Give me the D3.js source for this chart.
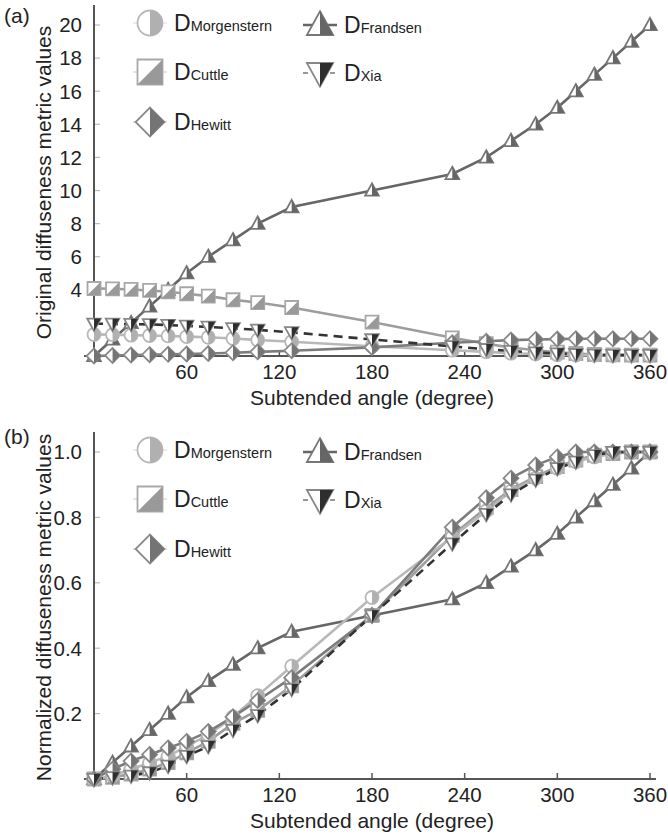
<!DOCTYPE html>
<html>
<head>
<meta charset="utf-8">
<script src="https://cdn.jsdelivr.net/npm/d3@7"></script>
<style>
  body { margin: 0; background: #fff; }
  svg { display: block; font-family: "Liberation Sans", Arial, sans-serif; }
  .tick-label { fill: #222; font-size: 20.5px; }
  .axis-title { fill: #222; font-size: 21px; }
</style>
</head>
<body>
<svg id="chart" width="668" height="838"></svg>
<script>
// subtended angles (degree) at which every metric was evaluated
const angles = [0, 12, 24, 36, 48, 60, 74, 90, 106, 128, 180, 232, 254, 270, 286, 300, 312, 324, 336, 348, 360];
const xTicks = [60, 120, 180, 240, 300, 360];
const yTicksA = [4, 6, 8, 10, 12, 14, 16, 18, 20];
const yTicksB = [0.2, 0.4, 0.6, 0.8, 1.0];

// (a) original values
const origMorgenstern = [1.3, 1.29, 1.26, 1.24, 1.21, 1.17, 1.13, 1.06, 0.97, 0.86, 0.59, 0.35, 0.25, 0.17, 0.12, 0.08, 0.06, 0.04, 0.03, 0.02, 0.02];
const origCuttle = [4.08, 4.06, 4.02, 3.96, 3.88, 3.76, 3.62, 3.4, 3.23, 2.93, 2.05, 1.1, 0.74, 0.51, 0.35, 0.23, 0.15, 0.09, 0.07, 0.05, 0.05];
const origHewitt = [0, 0.03, 0.06, 0.08, 0.1, 0.12, 0.15, 0.2, 0.25, 0.32, 0.52, 0.8, 0.89, 0.96, 1.0, 1.02, 1.04, 1.04, 1.04, 1.04, 1.04];
const origFrandsen = [0, 1, 2, 3, 4, 5, 6, 7, 8, 9, 10, 11, 12, 13, 14, 15, 16, 17, 18, 19, 20];
const origXia = [1.95, 1.94, 1.93, 1.91, 1.87, 1.82, 1.76, 1.67, 1.58, 1.43, 1.0, 0.58, 0.41, 0.3, 0.21, 0.15, 0.11, 0.07, 0.05, 0.05, 0.05];

// (b) normalized values
const normMorgenstern = [0, 0.01, 0.03, 0.05, 0.07, 0.1, 0.135, 0.19, 0.255, 0.345, 0.555, 0.74, 0.82, 0.88, 0.92, 0.95, 0.97, 0.985, 0.995, 1.0, 1.0];
const normCuttle = [0, 0.005, 0.015, 0.03, 0.05, 0.08, 0.115, 0.17, 0.21, 0.285, 0.5, 0.745, 0.83, 0.885, 0.925, 0.955, 0.975, 0.99, 0.995, 1.0, 1.0];
const normHewitt = [0, 0.03, 0.055, 0.075, 0.095, 0.115, 0.145, 0.19, 0.24, 0.31, 0.5, 0.77, 0.86, 0.92, 0.96, 0.985, 1.0, 1.0, 1.0, 1.0, 1.0];
const normFrandsen = [0, 0.05, 0.1, 0.15, 0.2, 0.25, 0.3, 0.35, 0.4, 0.45, 0.5, 0.55, 0.6, 0.65, 0.7, 0.75, 0.8, 0.85, 0.9, 0.95, 1.0];
const normXia = [0, 0.005, 0.01, 0.02, 0.04, 0.07, 0.1, 0.15, 0.195, 0.275, 0.5, 0.72, 0.81, 0.87, 0.915, 0.95, 0.97, 0.99, 1.0, 1.0, 1.0];

// marker shapes: outline + the filled right half
const shapes = {
  circle: r => [
    `M${-r},0A${r},${r} 0 1,1 ${r},0A${r},${r} 0 1,1 ${-r},0Z`,
    `M0,${-r}A${r},${r} 0 0,1 0,${r}Z`
  ],
  square: r => [
    `M${-r},${-r}H${r}V${r}H${-r}Z`,
    `M${r},${-r}V${r}H${-r}Z`
  ],
  diamond: r => [
    `M0,${-r * 1.15}L${r * 1.15},0L0,${r * 1.15}L${-r * 1.15},0Z`,
    `M0,${-r * 1.15}L${r * 1.15},0L0,${r * 1.15}Z`
  ],
  up: r => [
    `M0,${-r * 1.1}L${r * 1.05},${r * 0.8}L${-r * 1.05},${r * 0.8}Z`,
    `M0,${-r * 1.1}L${r * 1.05},${r * 0.8}L0,${r * 0.8}Z`
  ],
  down: r => [
    `M${-r * 1.05},${-r * 0.8}L${r * 1.05},${-r * 0.8}L0,${r * 1.1}Z`,
    `M0,${-r * 0.8}L${r * 1.05},${-r * 0.8}L0,${r * 1.1}Z`
  ]
};

const styles = {
  Morgenstern: { shape: 'circle', line: '#b8b8b8', edge: '#b8b8b8', fill: '#b0b0b0', dash: null },
  Cuttle: { shape: 'square', line: '#9d9d9d', edge: '#a8a8a8', fill: '#999', dash: null },
  Hewitt: { shape: 'diamond', line: '#7c7c7c', edge: '#8a8a8a', fill: '#747474', dash: null },
  Frandsen: { shape: 'up', line: '#666', edge: '#777', fill: '#666', dash: null },
  Xia: { shape: 'down', line: '#333', edge: '#888', fill: '#2e2e2e', dash: '9,6' }
};

const x0 = 94, x1 = 650;

const drawMarker = (sel, name, r) => {
  const st = styles[name];
  const [outline, half] = shapes[st.shape](r);
  sel.append('path').attr('d', outline)
    .attr('fill', '#fff').attr('stroke', st.edge).attr('stroke-width', 1.8);
  sel.append('path').attr('d', half)
    .attr('fill', st.fill).attr('stroke', 'none');
};

let drawPanel = (svg, p) => {
  const x = d3.scaleLinear().domain([0, 360]).range([x0, x1]);
  const y = d3.scaleLinear().domain(p.yDomain).range([p.yBottom, p.yTop]);

  const g = svg.append('g').attr('class', 'panel');

  // y tick marks (inside) and labels
  g.append('g').selectAll('line')
    .data(p.yTicks)
    .join('line')
      .attr('x1', x0).attr('x2', x0 + 6)
      .attr('y1', d => y(d)).attr('y2', d => y(d))
      .attr('stroke', '#bbb').attr('stroke-width', 1.2);

  g.append('g').selectAll('text')
    .data(p.yTicks)
    .join('text')
      .attr('class', 'tick-label')
      .attr('x', 82)
      .attr('y', d => y(d))
      .attr('dy', '0.36em')
      .attr('text-anchor', 'end')
      .text(p.yFormat);

  // x tick marks and labels
  g.append('g').selectAll('line')
    .data(xTicks)
    .join('line')
      .attr('x1', d => x(d)).attr('x2', d => x(d))
      .attr('y1', p.yBottom).attr('y2', p.yBottom - 6)
      .attr('stroke', '#555').attr('stroke-width', 1.5);

  g.append('g').selectAll('text')
    .data(xTicks)
    .join('text')
      .attr('class', 'tick-label')
      .attr('x', d => x(d))
      .attr('y', p.yBottom + 23)
      .attr('text-anchor', 'middle')
      .text(d => d);

  // axes
  g.append('line')
    .attr('x1', x0).attr('x2', x0)
    .attr('y1', p.axisTop).attr('y2', p.yBottom + 3)
    .attr('stroke', '#555').attr('stroke-width', 2);
  g.append('line')
    .attr('x1', x0 - 10).attr('x2', x1 + 6)
    .attr('y1', p.yBottom).attr('y2', p.yBottom)
    .attr('stroke', '#555').attr('stroke-width', 2);

  // titles
  g.append('text')
    .attr('class', 'axis-title')
    .attr('x', (x0 + x1) / 2)
    .attr('y', p.yBottom + 49)
    .attr('text-anchor', 'middle')
    .text('Subtended angle (degree)');

  g.append('text')
    .attr('class', 'axis-title')
    .attr('transform', `translate(51,${(p.axisTop + p.yBottom) / 2 + 2}) rotate(-90)`)
    .attr('text-anchor', 'middle')
    .text(p.yTitle);

  g.append('text')
    .attr('class', 'axis-title')
    .attr('font-size', 20)
    .attr('x', 4).attr('y', p.axisTop + p.tagDy)
    .text(p.tag);

  // series lines + markers
  const line = d3.line()
    .x((d, i) => x(angles[i]))
    .y(d => y(d));

  const order = ['Frandsen', 'Cuttle', 'Morgenstern', 'Hewitt', 'Xia'];
  order.forEach(name => {
    const st = styles[name];
    g.append('path')
      .datum(p.values[name])
      .attr('fill', 'none')
      .attr('stroke', st.line)
      .attr('stroke-width', 2.6)
      .attr('stroke-dasharray', st.dash)
      .attr('d', line);
  });
  order.forEach(name => {
    g.append('g').selectAll('g')
      .data(p.values[name])
      .join('g')
        .attr('transform', (d, i) => `translate(${x(angles[i])},${y(d)})`)
        .each(function() { drawMarker(d3.select(this), name, 6.5); });
  });

  // legend
  const legend = [
    { name: 'Morgenstern', lx: 150, ly: 23 },
    { name: 'Cuttle', lx: 150, ly: 72 },
    { name: 'Hewitt', lx: 150, ly: 122 },
    { name: 'Frandsen', lx: 320, ly: 25 },
    { name: 'Xia', lx: 320, ly: 73 }
  ];
  const lg = g.append('g').attr('transform', `translate(0,${p.axisTop - 5})`);
  const item = lg.selectAll('g')
    .data(legend)
    .join('g')
      .attr('transform', d => `translate(${d.lx},${d.ly})`);
  item.append('line')
    .attr('x1', -17).attr('x2', 17)
    .attr('stroke', d => styles[d.name].line)
    .attr('stroke-width', d => d.name === 'Frandsen' ? 2.5 : 1.2)
    .attr('stroke-dasharray', d => styles[d.name].dash ? '5,4' : null)
    .attr('opacity', d => d.name === 'Frandsen' || d.name === 'Xia' ? 1 : 0.5);
  item.each(function(d) { drawMarker(d3.select(this), d.name, 12.5); });
  const txt = item.append('text')
    .attr('x', 24).attr('y', 8)
    .attr('fill', '#222');
  txt.append('tspan').attr('font-size', 23).text('D');
  txt.append('tspan').attr('font-size', 14.5).text(d => d.name);
};

const svg = d3.select('#chart');

drawPanel(svg, {
  tag: '(a)', tagDy: 18,
  yDomain: [0, 20], yTop: 25, yBottom: 356, axisTop: 5,
  yTicks: yTicksA, yFormat: d => d,
  yTitle: 'Original diffuseness metric values',
  values: {
    Morgenstern: origMorgenstern, Cuttle: origCuttle, Hewitt: origHewitt,
    Frandsen: origFrandsen, Xia: origXia
  }
});

drawPanel(svg, {
  tag: '(b)', tagDy: 12,
  yDomain: [0, 1], yTop: 452, yBottom: 779, axisTop: 432,
  yTicks: yTicksB, yFormat: d3.format('.1f'),
  yTitle: 'Normalized diffuseness metric values',
  values: {
    Morgenstern: normMorgenstern, Cuttle: normCuttle, Hewitt: normHewitt,
    Frandsen: normFrandsen, Xia: normXia
  }
});
</script>
</body>
</html>
